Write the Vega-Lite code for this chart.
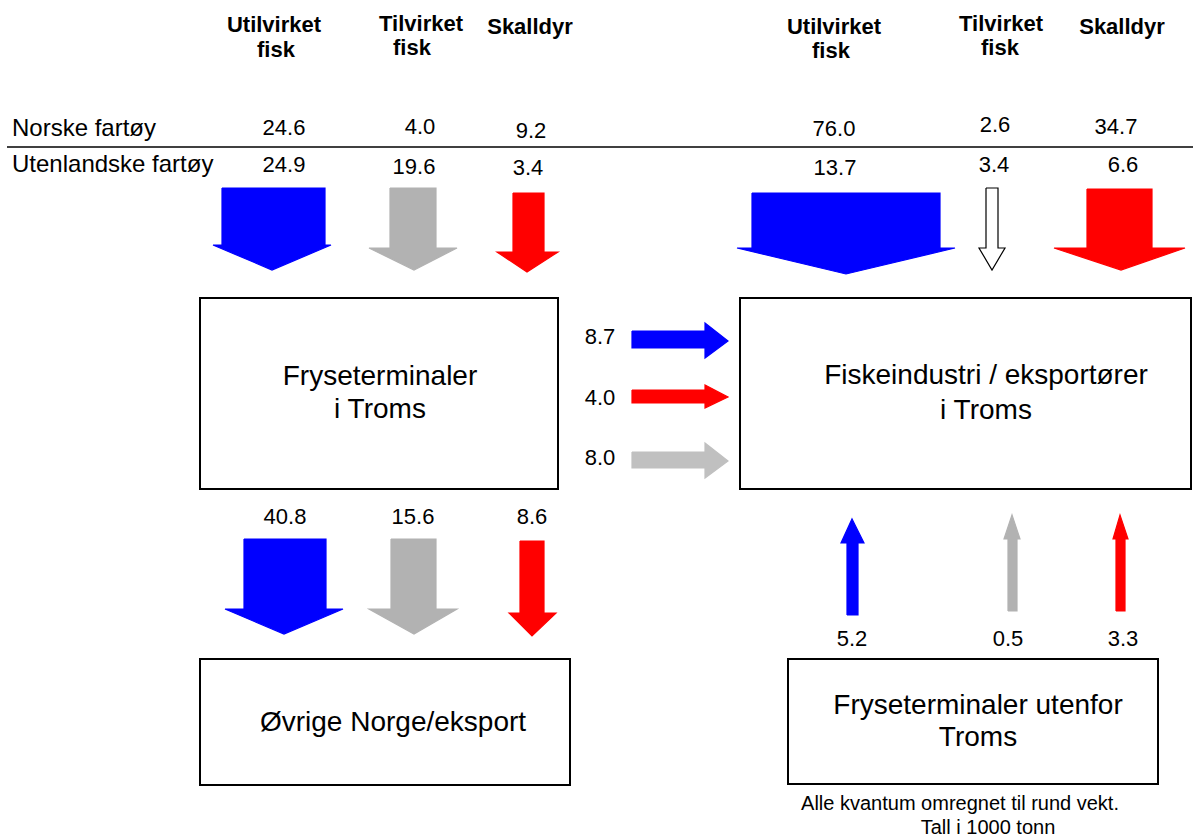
{
  "$schema": "https://vega.github.io/schema/vega-lite/v6.json",
  "width": 1193,
  "height": 838,
  "autosize": "none",
  "padding": 0,
  "background": "white",
  "config": {"view": {"stroke": null}, "text": {"font": "Liberation Sans", "color": "black"}},
  "datasets": {
    "boxes": [
      {"box": "Fryseterminaler i Troms", "x": 200, "x2": 558, "y": 298, "y2": 489},
      {"box": "Fiskeindustri / eksportører i Troms", "x": 740, "x2": 1191, "y": 298, "y2": 489},
      {"box": "Øvrige Norge/eksport", "x": 200, "x2": 570, "y": 659, "y2": 785},
      {"box": "Fryseterminaler utenfor Troms", "x": 788, "x2": 1158, "y": 659, "y2": 784}
    ],
    "divider": [{"x": 7, "x2": 1193, "y": 147}],
    "arrows": [
      {"id": "A1", "kind": "Utilvirket fisk", "i": 0, "x": 222, "y": 188},
      {"id": "A1", "kind": "Utilvirket fisk", "i": 1, "x": 325, "y": 188},
      {"id": "A1", "kind": "Utilvirket fisk", "i": 2, "x": 325, "y": 245},
      {"id": "A1", "kind": "Utilvirket fisk", "i": 3, "x": 331, "y": 245},
      {"id": "A1", "kind": "Utilvirket fisk", "i": 4, "x": 272, "y": 270},
      {"id": "A1", "kind": "Utilvirket fisk", "i": 5, "x": 213, "y": 245},
      {"id": "A1", "kind": "Utilvirket fisk", "i": 6, "x": 222, "y": 245},
      {"id": "A1", "kind": "Utilvirket fisk", "i": 7, "x": 222, "y": 188},

      {"id": "A2", "kind": "Tilvirket fisk", "i": 0, "x": 390, "y": 188},
      {"id": "A2", "kind": "Tilvirket fisk", "i": 1, "x": 436, "y": 188},
      {"id": "A2", "kind": "Tilvirket fisk", "i": 2, "x": 436, "y": 248},
      {"id": "A2", "kind": "Tilvirket fisk", "i": 3, "x": 457, "y": 248},
      {"id": "A2", "kind": "Tilvirket fisk", "i": 4, "x": 414, "y": 270},
      {"id": "A2", "kind": "Tilvirket fisk", "i": 5, "x": 369, "y": 248},
      {"id": "A2", "kind": "Tilvirket fisk", "i": 6, "x": 390, "y": 248},
      {"id": "A2", "kind": "Tilvirket fisk", "i": 7, "x": 390, "y": 188},

      {"id": "A3", "kind": "Skalldyr", "i": 0, "x": 513, "y": 193},
      {"id": "A3", "kind": "Skalldyr", "i": 1, "x": 544, "y": 193},
      {"id": "A3", "kind": "Skalldyr", "i": 2, "x": 544, "y": 252},
      {"id": "A3", "kind": "Skalldyr", "i": 3, "x": 558, "y": 252},
      {"id": "A3", "kind": "Skalldyr", "i": 4, "x": 527, "y": 272},
      {"id": "A3", "kind": "Skalldyr", "i": 5, "x": 497, "y": 252},
      {"id": "A3", "kind": "Skalldyr", "i": 6, "x": 513, "y": 252},
      {"id": "A3", "kind": "Skalldyr", "i": 7, "x": 513, "y": 193},

      {"id": "A4", "kind": "Utilvirket fisk", "i": 0, "x": 752, "y": 193},
      {"id": "A4", "kind": "Utilvirket fisk", "i": 1, "x": 940, "y": 193},
      {"id": "A4", "kind": "Utilvirket fisk", "i": 2, "x": 940, "y": 248},
      {"id": "A4", "kind": "Utilvirket fisk", "i": 3, "x": 955, "y": 248},
      {"id": "A4", "kind": "Utilvirket fisk", "i": 4, "x": 846, "y": 274},
      {"id": "A4", "kind": "Utilvirket fisk", "i": 5, "x": 737, "y": 248},
      {"id": "A4", "kind": "Utilvirket fisk", "i": 6, "x": 752, "y": 248},
      {"id": "A4", "kind": "Utilvirket fisk", "i": 7, "x": 752, "y": 193},

      {"id": "A5", "kind": "Tilvirket fisk (hul)", "i": 0, "x": 986, "y": 188},
      {"id": "A5", "kind": "Tilvirket fisk (hul)", "i": 1, "x": 998, "y": 188},
      {"id": "A5", "kind": "Tilvirket fisk (hul)", "i": 2, "x": 998, "y": 248},
      {"id": "A5", "kind": "Tilvirket fisk (hul)", "i": 3, "x": 1005, "y": 248},
      {"id": "A5", "kind": "Tilvirket fisk (hul)", "i": 4, "x": 992, "y": 270},
      {"id": "A5", "kind": "Tilvirket fisk (hul)", "i": 5, "x": 979, "y": 248},
      {"id": "A5", "kind": "Tilvirket fisk (hul)", "i": 6, "x": 986, "y": 248},
      {"id": "A5", "kind": "Tilvirket fisk (hul)", "i": 7, "x": 986, "y": 188},

      {"id": "A6", "kind": "Skalldyr", "i": 0, "x": 1087, "y": 189},
      {"id": "A6", "kind": "Skalldyr", "i": 1, "x": 1152, "y": 189},
      {"id": "A6", "kind": "Skalldyr", "i": 2, "x": 1152, "y": 248},
      {"id": "A6", "kind": "Skalldyr", "i": 3, "x": 1185, "y": 248},
      {"id": "A6", "kind": "Skalldyr", "i": 4, "x": 1121, "y": 270},
      {"id": "A6", "kind": "Skalldyr", "i": 5, "x": 1054, "y": 248},
      {"id": "A6", "kind": "Skalldyr", "i": 6, "x": 1087, "y": 248},
      {"id": "A6", "kind": "Skalldyr", "i": 7, "x": 1087, "y": 189},

      {"id": "M1", "kind": "Utilvirket fisk", "i": 0, "x": 632, "y": 331},
      {"id": "M1", "kind": "Utilvirket fisk", "i": 1, "x": 705, "y": 331},
      {"id": "M1", "kind": "Utilvirket fisk", "i": 2, "x": 705, "y": 323},
      {"id": "M1", "kind": "Utilvirket fisk", "i": 3, "x": 728, "y": 341},
      {"id": "M1", "kind": "Utilvirket fisk", "i": 4, "x": 705, "y": 358},
      {"id": "M1", "kind": "Utilvirket fisk", "i": 5, "x": 705, "y": 348},
      {"id": "M1", "kind": "Utilvirket fisk", "i": 6, "x": 632, "y": 348},
      {"id": "M1", "kind": "Utilvirket fisk", "i": 7, "x": 632, "y": 331},

      {"id": "M2", "kind": "Skalldyr", "i": 0, "x": 632, "y": 390},
      {"id": "M2", "kind": "Skalldyr", "i": 1, "x": 705, "y": 390},
      {"id": "M2", "kind": "Skalldyr", "i": 2, "x": 705, "y": 385},
      {"id": "M2", "kind": "Skalldyr", "i": 3, "x": 728, "y": 397},
      {"id": "M2", "kind": "Skalldyr", "i": 4, "x": 705, "y": 408},
      {"id": "M2", "kind": "Skalldyr", "i": 5, "x": 705, "y": 403},
      {"id": "M2", "kind": "Skalldyr", "i": 6, "x": 632, "y": 403},
      {"id": "M2", "kind": "Skalldyr", "i": 7, "x": 632, "y": 390},

      {"id": "M3", "kind": "Tilvirket fisk (lys)", "i": 0, "x": 632, "y": 452},
      {"id": "M3", "kind": "Tilvirket fisk (lys)", "i": 1, "x": 705, "y": 452},
      {"id": "M3", "kind": "Tilvirket fisk (lys)", "i": 2, "x": 705, "y": 443},
      {"id": "M3", "kind": "Tilvirket fisk (lys)", "i": 3, "x": 728, "y": 461},
      {"id": "M3", "kind": "Tilvirket fisk (lys)", "i": 4, "x": 705, "y": 478},
      {"id": "M3", "kind": "Tilvirket fisk (lys)", "i": 5, "x": 705, "y": 468},
      {"id": "M3", "kind": "Tilvirket fisk (lys)", "i": 6, "x": 632, "y": 468},
      {"id": "M3", "kind": "Tilvirket fisk (lys)", "i": 7, "x": 632, "y": 452},

      {"id": "B1", "kind": "Utilvirket fisk", "i": 0, "x": 244, "y": 539},
      {"id": "B1", "kind": "Utilvirket fisk", "i": 1, "x": 326, "y": 539},
      {"id": "B1", "kind": "Utilvirket fisk", "i": 2, "x": 326, "y": 609},
      {"id": "B1", "kind": "Utilvirket fisk", "i": 3, "x": 343, "y": 609},
      {"id": "B1", "kind": "Utilvirket fisk", "i": 4, "x": 284, "y": 634},
      {"id": "B1", "kind": "Utilvirket fisk", "i": 5, "x": 225, "y": 609},
      {"id": "B1", "kind": "Utilvirket fisk", "i": 6, "x": 244, "y": 609},
      {"id": "B1", "kind": "Utilvirket fisk", "i": 7, "x": 244, "y": 539},

      {"id": "B2", "kind": "Tilvirket fisk", "i": 0, "x": 391, "y": 539},
      {"id": "B2", "kind": "Tilvirket fisk", "i": 1, "x": 436, "y": 539},
      {"id": "B2", "kind": "Tilvirket fisk", "i": 2, "x": 436, "y": 609},
      {"id": "B2", "kind": "Tilvirket fisk", "i": 3, "x": 457, "y": 609},
      {"id": "B2", "kind": "Tilvirket fisk", "i": 4, "x": 414, "y": 634},
      {"id": "B2", "kind": "Tilvirket fisk", "i": 5, "x": 369, "y": 609},
      {"id": "B2", "kind": "Tilvirket fisk", "i": 6, "x": 391, "y": 609},
      {"id": "B2", "kind": "Tilvirket fisk", "i": 7, "x": 391, "y": 539},

      {"id": "B3", "kind": "Skalldyr", "i": 0, "x": 520, "y": 541},
      {"id": "B3", "kind": "Skalldyr", "i": 1, "x": 544, "y": 541},
      {"id": "B3", "kind": "Skalldyr", "i": 2, "x": 544, "y": 613},
      {"id": "B3", "kind": "Skalldyr", "i": 3, "x": 556, "y": 613},
      {"id": "B3", "kind": "Skalldyr", "i": 4, "x": 532, "y": 636},
      {"id": "B3", "kind": "Skalldyr", "i": 5, "x": 509, "y": 613},
      {"id": "B3", "kind": "Skalldyr", "i": 6, "x": 520, "y": 613},
      {"id": "B3", "kind": "Skalldyr", "i": 7, "x": 520, "y": 541},

      {"id": "U1", "kind": "Utilvirket fisk", "i": 0, "x": 847, "y": 615},
      {"id": "U1", "kind": "Utilvirket fisk", "i": 1, "x": 858, "y": 615},
      {"id": "U1", "kind": "Utilvirket fisk", "i": 2, "x": 858, "y": 543},
      {"id": "U1", "kind": "Utilvirket fisk", "i": 3, "x": 864, "y": 543},
      {"id": "U1", "kind": "Utilvirket fisk", "i": 4, "x": 852, "y": 519},
      {"id": "U1", "kind": "Utilvirket fisk", "i": 5, "x": 841, "y": 543},
      {"id": "U1", "kind": "Utilvirket fisk", "i": 6, "x": 847, "y": 543},
      {"id": "U1", "kind": "Utilvirket fisk", "i": 7, "x": 847, "y": 615},

      {"id": "U2", "kind": "Tilvirket fisk", "i": 0, "x": 1008, "y": 611},
      {"id": "U2", "kind": "Tilvirket fisk", "i": 1, "x": 1017, "y": 611},
      {"id": "U2", "kind": "Tilvirket fisk", "i": 2, "x": 1017, "y": 539},
      {"id": "U2", "kind": "Tilvirket fisk", "i": 3, "x": 1020, "y": 539},
      {"id": "U2", "kind": "Tilvirket fisk", "i": 4, "x": 1012, "y": 515},
      {"id": "U2", "kind": "Tilvirket fisk", "i": 5, "x": 1004, "y": 539},
      {"id": "U2", "kind": "Tilvirket fisk", "i": 6, "x": 1008, "y": 539},
      {"id": "U2", "kind": "Tilvirket fisk", "i": 7, "x": 1008, "y": 611},

      {"id": "U3", "kind": "Skalldyr", "i": 0, "x": 1116, "y": 611},
      {"id": "U3", "kind": "Skalldyr", "i": 1, "x": 1125, "y": 611},
      {"id": "U3", "kind": "Skalldyr", "i": 2, "x": 1125, "y": 539},
      {"id": "U3", "kind": "Skalldyr", "i": 3, "x": 1128, "y": 539},
      {"id": "U3", "kind": "Skalldyr", "i": 4, "x": 1120, "y": 515},
      {"id": "U3", "kind": "Skalldyr", "i": 5, "x": 1113, "y": 539},
      {"id": "U3", "kind": "Skalldyr", "i": 6, "x": 1116, "y": 539},
      {"id": "U3", "kind": "Skalldyr", "i": 7, "x": 1116, "y": 611}
    ],
    "headers": [
      {"text": "Utilvirket", "x": 274, "y": 25},
      {"text": "fisk", "x": 276, "y": 50},
      {"text": "Tilvirket", "x": 421, "y": 24},
      {"text": "fisk", "x": 412, "y": 48},
      {"text": "Skalldyr", "x": 530, "y": 27},
      {"text": "Utilvirket", "x": 834, "y": 27},
      {"text": "fisk", "x": 831, "y": 51},
      {"text": "Tilvirket", "x": 1001, "y": 24},
      {"text": "fisk", "x": 1000, "y": 48},
      {"text": "Skalldyr", "x": 1122, "y": 27}
    ],
    "rowlabels": [
      {"text": "Norske fartøy", "x": 12, "y": 129},
      {"text": "Utenlandske fartøy", "x": 12, "y": 165}
    ],
    "numbers": [
      {"text": "24.6", "x": 284, "y": 128},
      {"text": "4.0", "x": 420, "y": 127},
      {"text": "9.2", "x": 531, "y": 131},
      {"text": "76.0", "x": 834, "y": 129},
      {"text": "2.6", "x": 995, "y": 125},
      {"text": "34.7", "x": 1116, "y": 127},
      {"text": "24.9", "x": 284, "y": 165},
      {"text": "19.6", "x": 414, "y": 167},
      {"text": "3.4", "x": 528, "y": 168},
      {"text": "13.7", "x": 835, "y": 168},
      {"text": "3.4", "x": 994, "y": 165},
      {"text": "6.6", "x": 1123, "y": 165},
      {"text": "8.7", "x": 600, "y": 337},
      {"text": "4.0", "x": 600, "y": 398},
      {"text": "8.0", "x": 600, "y": 458},
      {"text": "40.8", "x": 285, "y": 517},
      {"text": "15.6", "x": 413, "y": 517},
      {"text": "8.6", "x": 532, "y": 517},
      {"text": "5.2", "x": 852, "y": 639},
      {"text": "0.5", "x": 1008, "y": 639},
      {"text": "3.3", "x": 1123, "y": 639}
    ],
    "boxtext": [
      {"text": "Fryseterminaler", "x": 380, "y": 377},
      {"text": "i Troms", "x": 380, "y": 410},
      {"text": "Fiskeindustri / eksportører", "x": 986, "y": 376},
      {"text": "i Troms", "x": 986, "y": 411},
      {"text": "Øvrige Norge/eksport", "x": 393, "y": 723},
      {"text": "Fryseterminaler utenfor", "x": 978, "y": 706},
      {"text": "Troms", "x": 978, "y": 738}
    ],
    "notes": [
      {"text": "Alle kvantum omregnet til rund vekt.", "x": 960, "y": 804},
      {"text": "Tall i 1000 tonn", "x": 988, "y": 828}
    ]
  },
  "layer": [
    {
      "data": {"name": "boxes"},
      "mark": {"type": "rect", "fill": "white", "stroke": "black", "strokeWidth": 2},
      "encoding": {
        "x": {"field": "x", "type": "quantitative", "scale": {"domain": [0, 1193], "nice": false, "zero": false}, "axis": null},
        "x2": {"field": "x2"},
        "y": {"field": "y", "type": "quantitative", "scale": {"domain": [0, 838], "nice": false, "zero": false, "reverse": true}, "axis": null},
        "y2": {"field": "y2"}
      }
    },
    {
      "data": {"name": "divider"},
      "mark": {"type": "rule", "stroke": "black", "strokeWidth": 1.5},
      "encoding": {
        "x": {"field": "x", "type": "quantitative"},
        "x2": {"field": "x2"},
        "y": {"field": "y", "type": "quantitative"}
      }
    },
    {
      "data": {"name": "arrows"},
      "mark": {"type": "line", "strokeWidth": 1.2, "interpolate": "linear"},
      "encoding": {
        "x": {"field": "x", "type": "quantitative"},
        "y": {"field": "y", "type": "quantitative"},
        "detail": {"field": "id", "type": "nominal"},
        "order": {"field": "i", "type": "quantitative"},
        "fill": {"field": "kind", "type": "nominal", "legend": null,
          "scale": {"domain": ["Utilvirket fisk", "Tilvirket fisk", "Tilvirket fisk (lys)", "Tilvirket fisk (hul)", "Skalldyr"],
                    "range": ["#0000ff", "#b2b2b2", "#c0c0c0", "#ffffff", "#ff0000"]}},
        "stroke": {"field": "kind", "type": "nominal", "legend": null,
          "scale": {"domain": ["Utilvirket fisk", "Tilvirket fisk", "Tilvirket fisk (lys)", "Tilvirket fisk (hul)", "Skalldyr"],
                    "range": ["#0000ff", "#b2b2b2", "#c0c0c0", "#000000", "#ff0000"]}}
      }
    },
    {
      "data": {"name": "headers"},
      "mark": {"type": "text", "fontSize": 22, "fontWeight": "bold", "align": "center", "baseline": "middle"},
      "encoding": {
        "x": {"field": "x", "type": "quantitative"},
        "y": {"field": "y", "type": "quantitative"},
        "text": {"field": "text"}
      }
    },
    {
      "data": {"name": "rowlabels"},
      "mark": {"type": "text", "fontSize": 24, "align": "left", "baseline": "middle"},
      "encoding": {
        "x": {"field": "x", "type": "quantitative"},
        "y": {"field": "y", "type": "quantitative"},
        "text": {"field": "text"}
      }
    },
    {
      "data": {"name": "numbers"},
      "mark": {"type": "text", "fontSize": 22, "align": "center", "baseline": "middle"},
      "encoding": {
        "x": {"field": "x", "type": "quantitative"},
        "y": {"field": "y", "type": "quantitative"},
        "text": {"field": "text"}
      }
    },
    {
      "data": {"name": "boxtext"},
      "mark": {"type": "text", "fontSize": 28, "align": "center", "baseline": "middle"},
      "encoding": {
        "x": {"field": "x", "type": "quantitative"},
        "y": {"field": "y", "type": "quantitative"},
        "text": {"field": "text"}
      }
    },
    {
      "data": {"name": "notes"},
      "mark": {"type": "text", "fontSize": 20, "align": "center", "baseline": "middle"},
      "encoding": {
        "x": {"field": "x", "type": "quantitative"},
        "y": {"field": "y", "type": "quantitative"},
        "text": {"field": "text"}
      }
    }
  ]
}
